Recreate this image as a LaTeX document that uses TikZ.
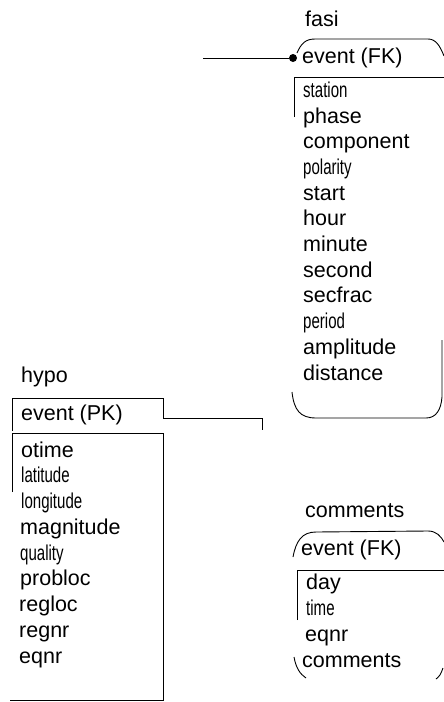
\documentclass[tikz,border=0pt]{standalone}
\usepackage{fontspec}
\setmainfont{Liberation Sans}
\usepackage{graphicx}
\newcommand{\squeezed}[1]{\scalebox{0.7}[1]{#1}}

\begin{document}
\begin{tikzpicture}[x=1pt,y=-1pt,
	lbl/.style={anchor=west,inner sep=0pt,text height=15pt,text depth=4pt,font=\fontsize{21.5}{25}\selectfont},
	rim/.style={line width=0.9pt}]
	\useasboundingbox (0,0) rectangle (444,702);
	\node[lbl] (fasi) at (305,21) {fasi};
	\node[lbl] (fasikey) at (302,58) {event (FK)};
	\node[lbl] (station) at (303,92) {\squeezed{station}};
	\node[lbl] (phase) at (303,118) {phase};
	\node[lbl] (component) at (303,143) {component};
	\node[lbl] (polarity) at (303,169) {\squeezed{polarity}};
	\node[lbl] (start) at (303,195) {start};
	\node[lbl] (hour) at (303,220) {hour};
	\node[lbl] (minute) at (303,246) {minute};
	\node[lbl] (second) at (303,272) {second};
	\node[lbl] (secfrac) at (303,297) {secfrac};
	\node[lbl] (period) at (303,323) {\squeezed{period}};
	\node[lbl] (amplitude) at (303,349) {amplitude};
	\node[lbl] (distance) at (303,375) {distance};
	\draw[rim] (297,53) .. controls (301,44) and (305,39) .. (315,39) -- (428,39) .. controls (436,39) and (440,46) .. (444,56);
	\draw[rim] (294,117) -- (294,77) -- (444,77);
	\draw[rim] (292,392) .. controls (294,410) and (300,418) .. (316,418) -- (426,418) .. controls (436,418) and (441,410) .. (442,397) -- (442,340);
	\node[circle,fill=black,inner sep=0pt,minimum size=8pt] (fasidot) at (293,58) {};
	\coordinate (fasiin) at (203,58);
	\draw[rim] (fasiin) -- (fasidot);

	\node[lbl] (hypo) at (21,377) {hypo};
	\node[lbl] (hypokey) at (21,415) {event (PK)};
	\node[lbl] (otime) at (21,452) {otime};
	\node[lbl] (latitude) at (21,477) {\squeezed{latitude}};
	\node[lbl] (longitude) at (21,503) {\squeezed{longitude}};
	\node[lbl] (magnitude) at (20,529) {magnitude};
	\node[lbl] (quality) at (20,555) {\squeezed{quality}};
	\node[lbl] (probloc) at (20,580) {probloc};
	\node[lbl] (regloc) at (19,606) {regloc};
	\node[lbl] (regnr) at (19,632) {regnr};
	\node[lbl] (eqnr) at (19,658) {eqnr};
	\draw[rim] (12,431) -- (12,398) -- (163,398) -- (163,418);
	\draw[rim] (12,492) -- (12,433) -- (163,433) -- (163,700) -- (10,700);
	\coordinate (hypoout) at (163,418);
	\coordinate (hypoend) at (262,430);
	\draw[rim] (hypoout) -| (hypoend);

	\node[lbl] (comments) at (305,512) {comments};
	\node[lbl] (commkey) at (301,550) {event (FK)};
	\node[lbl] (day) at (306,584) {day};
	\node[lbl] (time) at (306,610) {\squeezed{time}};
	\node[lbl] (eqnr2) at (305,636) {eqnr};
	\node[lbl] (comments2) at (302,662) {comments};
	\draw[rim] (293,557) .. controls (296,541) and (302,532) .. (316,532) -- (428,531) .. controls (436,531) and (441,536) .. (444,542);
	\draw[rim] (297,620) -- (297,570) -- (444,570);
	\draw[rim] (294,657) .. controls (296,668) and (300,674) .. (306,678);
	\draw[rim] (443,668) .. controls (441,674) and (439,677) .. (436,679);
\end{tikzpicture}
\end{document}
